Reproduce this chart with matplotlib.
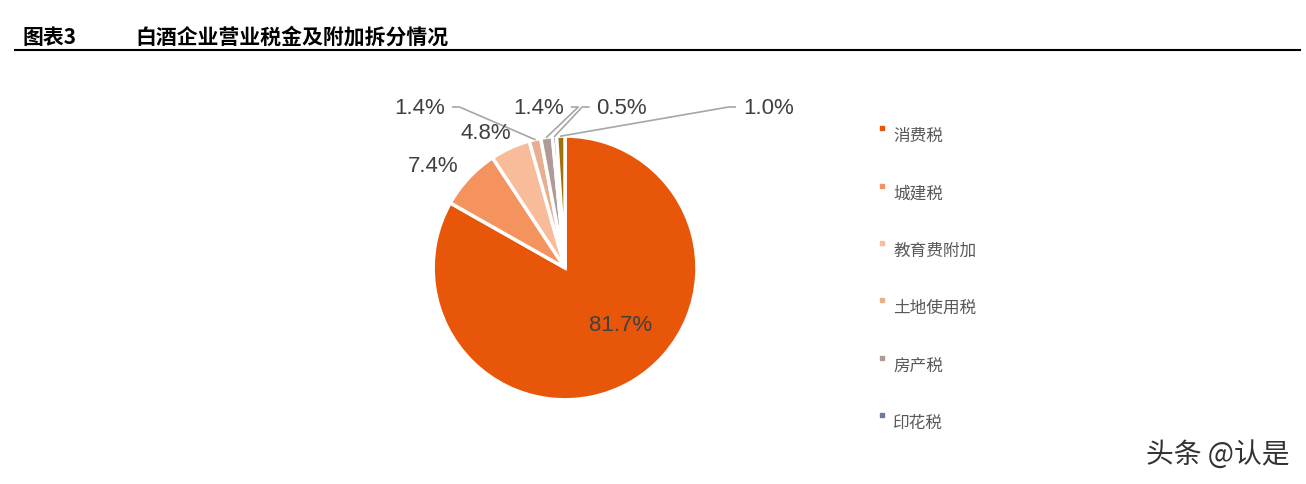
import numpy as np
import matplotlib
matplotlib.use("Agg")
import matplotlib.pyplot as plt
from matplotlib.patches import Rectangle

plt.rcParams["font.family"] = ["Noto Sans CJK SC", "DejaVu Sans"]

names = ["消费税", "城建税", "教育费附加", "土地使用税", "房产税", "印花税", "其他"]
values = [81.7, 7.4, 4.8, 1.4, 1.4, 0.5, 1.0]
labels = ["81.7%", "7.4%", "4.8%", "1.4%", "1.4%", "0.5%", "1.0%"]
colors = ["#E8560A", "#F4935E", "#F9BC9A", "#E8AE90", "#B09A96", "#6B7A9E", "#A0700A"]
# label positions (pie radius = 1) and whether a leader line is drawn
label_pos = [(0.42, -0.43), (-1.0, 0.78), (-0.60, 1.03), (-1.10, 1.22),
             (-0.20, 1.22), (0.43, 1.22), (1.54, 1.22)]
leader = [False, False, False, True, True, True, True]

fig = plt.figure(figsize=(13.06, 4.85), dpi=100)
ax = fig.add_axes([0.2508, -0.044, 0.3637, 0.979])
wedges, _ = ax.pie(values, colors=colors, startangle=90, counterclock=False,
                   wedgeprops=dict(edgecolor="white", linewidth=2.5))
ax.set_xlim(-1.8, 1.8)
ax.set_ylim(-1.8, 1.8)
ax.set_aspect("equal")
ax.axis("off")

for w, lab, (lx, ly), ld in zip(wedges, labels, label_pos, leader):
    ang = np.deg2rad((w.theta1 + w.theta2) / 2)
    if ld:
        ex, ey = np.cos(ang), np.sin(ang)
        tx = lx - 0.25 if lx > 0 else lx + 0.25
        ax.plot([ex, tx - 0.05 if lx > 0 else tx + 0.05, tx], [ey, ly, ly],
                color="#A6A6A6", lw=1.2, clip_on=False)
    ax.text(lx, ly, lab, fontsize=16, color="#404040", ha="center", va="center",
            fontfamily="Liberation Sans")

# legend (first six items)
leg_y = [128, 186, 243, 300, 358, 415]
for name, c, y in zip(names[:6], colors[:6], leg_y):
    fig.patches.append(Rectangle((880 / 1306, 1 - (y + 3) / 485), 4 / 1306, 4 / 485,
                                 transform=fig.transFigure, color=c))
    fig.text(893 / 1306, 1 - (y + 8) / 485, name, fontsize=12, color="#595959",
             va="center", ha="left")

# header
fig.text(22 / 1306, 1 - 37 / 485, "图表3", fontsize=15, fontweight="heavy", va="center")
fig.text(135 / 1306, 1 - 37 / 485, "白酒企业营业税金及附加拆分情况", fontsize=15,
         fontweight="heavy", va="center")
fig.add_artist(plt.Line2D([15 / 1306, 1300 / 1306], [1 - 51 / 485, 1 - 51 / 485],
                          color="black", lw=1.5))
fig.text(1290 / 1306, 1 - 455 / 485, "头条 @认是", fontsize=20, color="#333333",
         ha="right", va="center")

fig.savefig("out.png", dpi=100)
